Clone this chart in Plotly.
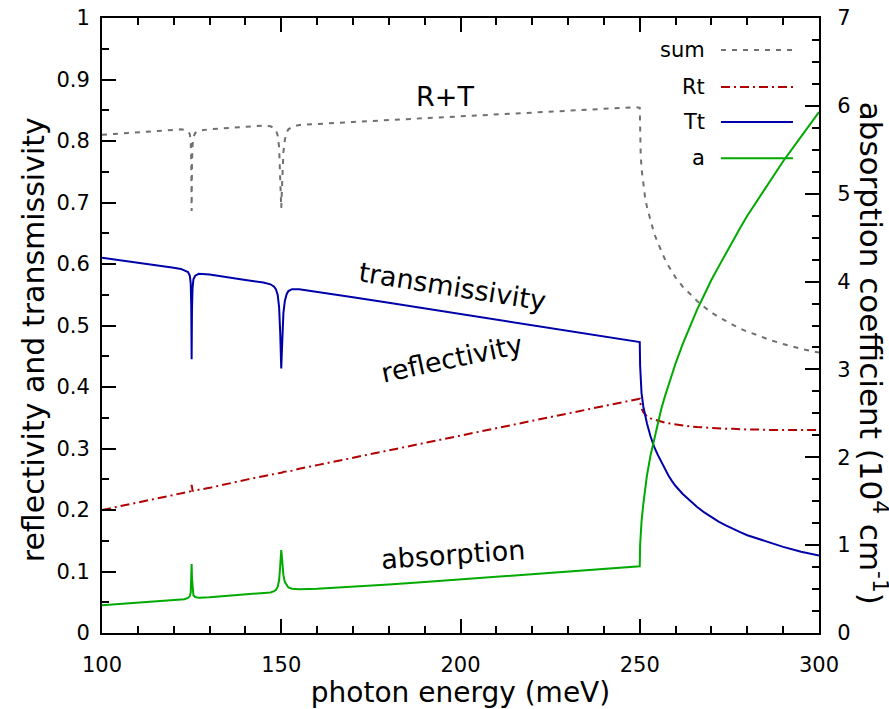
import plotly.graph_objects as go
import numpy as np

# photon energy (meV)
energy = [100, 105, 110, 115, 120, 122, 123, 124, 124.5, 124.75, 124.9, 125, 125.1, 125.25,
          125.5, 126, 127, 130, 135, 140, 145, 147, 148, 148.5, 149, 149.4, 149.7, 149.85,
          150, 150.15, 150.3, 150.6, 151, 151.5, 152, 153, 155, 160, 170, 180, 190, 200,
          210, 220, 230, 240, 245, 249,
          250, 250.1, 250.25, 250.5, 251, 251.5, 252, 253, 254, 255, 256, 257, 258, 259, 260,
          262, 264, 266, 268, 270, 272, 274, 276, 278, 280, 283, 286, 290, 295, 300]

# transmissivity Tt
trans = [0.610, 0.606, 0.603, 0.599, 0.594, 0.592, 0.590, 0.587, 0.581, 0.568, 0.530, 0.445,
         0.525, 0.560, 0.575, 0.581, 0.584, 0.583, 0.578, 0.574, 0.570, 0.567, 0.563, 0.559,
         0.550, 0.530, 0.490, 0.455, 0.430, 0.455, 0.485, 0.520, 0.540, 0.551, 0.556, 0.559,
         0.559, 0.555, 0.546, 0.537, 0.528, 0.519, 0.510, 0.500, 0.491, 0.482, 0.478, 0.474,
         0.473, 0.435, 0.410, 0.390, 0.368, 0.353, 0.341, 0.320, 0.303, 0.290, 0.278, 0.266,
         0.256, 0.247, 0.239, 0.226, 0.215, 0.205, 0.196, 0.188, 0.181, 0.175, 0.169, 0.164,
         0.159, 0.153, 0.147, 0.140, 0.132, 0.126]

# reflectivity Rt
refl = [0.200, 0.206, 0.212, 0.218, 0.224, 0.227, 0.228, 0.229, 0.230, 0.231, 0.234, 0.241,
        0.236, 0.232, 0.231, 0.232, 0.233, 0.236, 0.243, 0.249, 0.255, 0.257, 0.258, 0.259,
        0.259, 0.260, 0.260, 0.261, 0.261, 0.261, 0.261, 0.262, 0.262, 0.263, 0.263, 0.264,
        0.267, 0.273, 0.285, 0.297, 0.309, 0.322, 0.334, 0.346, 0.358, 0.370, 0.376, 0.381,
        0.381, 0.376, 0.371, 0.365, 0.359, 0.355, 0.352, 0.349, 0.347, 0.345, 0.343, 0.342,
        0.341, 0.340, 0.339, 0.337, 0.336, 0.335, 0.334, 0.333, 0.333, 0.332, 0.332, 0.331,
        0.331, 0.331, 0.330, 0.330, 0.330, 0.330]

# absorption coefficient a (10^4 cm^-1)
absorp = [0.315, 0.329, 0.343, 0.357, 0.371, 0.378, 0.385, 0.400, 0.420, 0.460, 0.600, 0.784,
          0.620, 0.480, 0.430, 0.410, 0.400, 0.406, 0.420, 0.434, 0.448, 0.462, 0.476, 0.490,
          0.525, 0.600, 0.756, 0.868, 0.945, 0.882, 0.784, 0.658, 0.580, 0.540, 0.518, 0.504,
          0.497, 0.504, 0.525, 0.553, 0.580, 0.610, 0.637, 0.665, 0.693, 0.728, 0.742, 0.756,
          0.760, 1.00, 1.13, 1.27, 1.47, 1.62, 1.79, 2.02, 2.21, 2.39, 2.55, 2.69,
          2.82, 2.95, 3.07, 3.29, 3.49, 3.68, 3.85, 4.02, 4.17, 4.32, 4.47, 4.61,
          4.75, 4.94, 5.13, 5.37, 5.65, 5.93]

# sum R + T
total = list(np.array(refl) + np.array(trans))

C_SUM = "#707070"
C_R = "#b00000"
C_T = "#0000aa"
C_A = "#00aa00"
FONT = "DejaVu Sans"
DASH_SUM = "5px,6px"
DASH_R = "9px,4px,2px,4px"

fig = go.Figure()
fig.add_trace(go.Scatter(x=energy, y=total, mode="lines", name="sum",
                         line=dict(color=C_SUM, width=2, dash=DASH_SUM)))
fig.add_trace(go.Scatter(x=energy, y=refl, mode="lines", name="Rt",
                         line=dict(color=C_R, width=2, dash=DASH_R)))
fig.add_trace(go.Scatter(x=energy, y=trans, mode="lines", name="Tt",
                         line=dict(color=C_T, width=2)))
fig.add_trace(go.Scatter(x=energy, y=absorp, mode="lines", name="a", yaxis="y2",
                         line=dict(color=C_A, width=2)))

axis_common = dict(showline=True, linecolor="black", linewidth=2, ticks="inside",
                   tickcolor="black", tickwidth=1.5, showgrid=False, zeroline=False,
                   automargin=False,
                   tickfont=dict(family=FONT, size=21, color="black"))
minor_common = dict(ticklen=7, ticks="inside", tickcolor="black", tickwidth=1.5)

fig.update_layout(
    width=889, height=709,
    margin=dict(l=102, r=70, t=18, b=76),
    paper_bgcolor="white", plot_bgcolor="white",
    showlegend=False,
    font=dict(family=FONT, color="black"),
    xaxis=dict(range=[100, 300], dtick=50, tick0=100, ticklen=14, mirror="ticks",
               minor=dict(dtick=10, **minor_common),
               title=dict(text="photon energy (meV)", font=dict(family=FONT, size=28), standoff=0),
               ticklabelstandoff=12,
               **axis_common),
    yaxis=dict(range=[0, 1], dtick=0.1, ticklen=14,
               minor=dict(dtick=0.05, **minor_common),
               ticklabelstandoff=6,
               **axis_common),
    yaxis2=dict(range=[0, 7], dtick=1, ticklen=14, overlaying="y", side="right",
                minor=dict(dtick=0.25, **minor_common),
                ticklabelstandoff=12,
                **axis_common),
)

# y-axis titles (placed like the gnuplot original)
fig.add_annotation(x=-0.0962, y=0.476, xref="paper", yref="paper",
                   text="reflectivity and transmissivity", showarrow=False, textangle=-90,
                   xanchor="center", yanchor="middle", font=dict(family=FONT, size=30, color="black"))
fig.add_annotation(x=1.0745, y=0.455, xref="paper", yref="paper",
                   text="absorption coefficient (10<sup>4</sup> cm<sup>-1</sup>)", showarrow=False,
                   textangle=90, xanchor="center", yanchor="middle",
                   font=dict(family=FONT, size=31, color="black"))

# curve labels
labels = [("R+T", 195.7, 0.873, 0), ("transmissivity", 197.9, 0.564, 9),
          ("reflectivity", 197.6, 0.446, -12), ("absorption", 197.9, 0.128, -4)]
for txt, xv, yv, ang in labels:
    fig.add_annotation(x=xv, y=yv, xref="x", yref="y", text=txt, showarrow=False,
                       textangle=ang, font=dict(family=FONT, size=27, color="black"))

# gnuplot-style key (label right-aligned, sample to the right)
key = [("sum", C_SUM, DASH_SUM, 0.948), ("Rt", C_R, DASH_R, 0.888),
       ("Tt", C_T, "solid", 0.831), ("a", C_A, "solid", 0.772)]
for name, col, dash, yp in key:
    fig.add_annotation(x=0.8438, y=yp, xref="paper", yref="paper", text=name, showarrow=False,
                       xanchor="right", yanchor="middle", font=dict(family=FONT, size=21, color="black"))
    fig.add_shape(type="line", xref="paper", yref="paper", x0=0.8633, x1=0.9637, y0=yp, y1=yp,
                  line=dict(color=col, width=2, dash=dash))

fig.write_html("out.html")
